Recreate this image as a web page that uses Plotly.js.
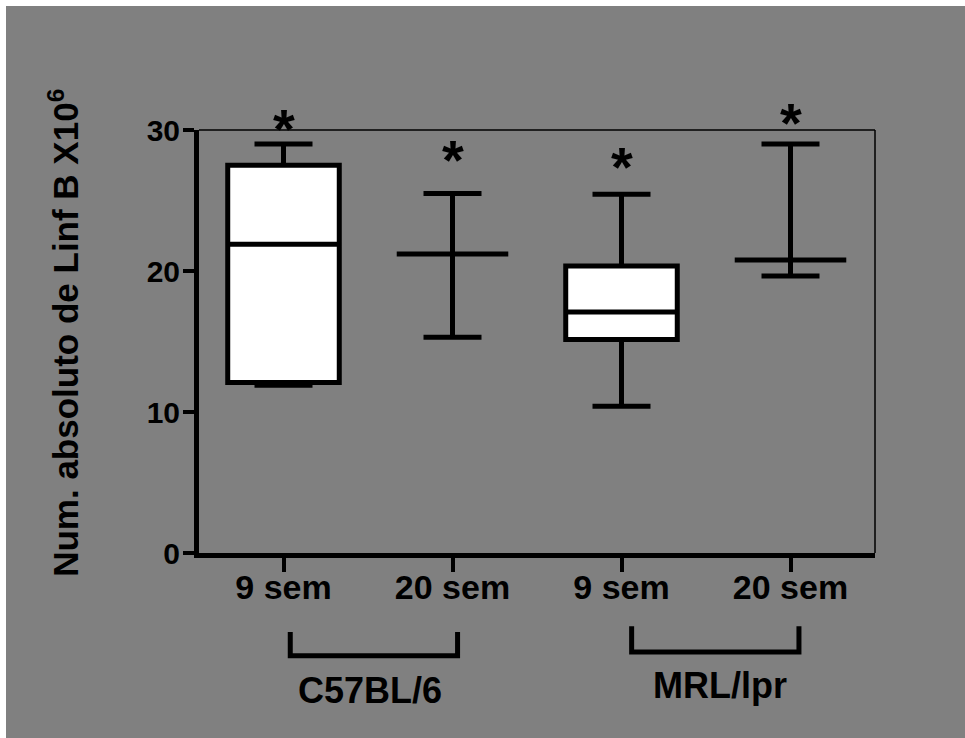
<!DOCTYPE html>
<html>
<head>
<meta charset="utf-8">
<script src="https://cdn.plot.ly/plotly-3.0.1.min.js"></script>
<style>
  html, body { margin: 0; padding: 0; background: #ffffff; }
  #chart { position: absolute; left: 6px; top: 6px; width: 959px; height: 732px; }
</style>
</head>
<body>
<div id="chart"></div>
<script>
// ---- data ----
const positions   = [0, 1, 2, 3];
const tickLabels  = ["9 sem", "20 sem", "9 sem", "20 sem"];
const groupLabels = ["C57BL/6", "MRL/lpr"];
const lowerFence  = [11.9, 15.3, 10.4, 19.65];
const q1Values    = [12.1, 21.2, 15.15, 20.78];
const medianVals  = [21.9, 21.2, 17.1, 20.78];
const q3Values    = [27.5, 21.2, 20.35, 20.78];
const upperFence  = [29.0, 25.5, 25.45, 29.0];
const starLabels  = ["*", "*", "*", "*"];
const starY       = [30.8, 28.6, 28.1, 31.25];
const yTicks      = [0, 10, 20, 30];
const yMax        = 30;

const FONT = "Liberation Sans, Arial, Helvetica, sans-serif";

const trace = {
  type: "box",
  x: positions,
  q1: q1Values,
  median: medianVals,
  q3: q3Values,
  lowerfence: lowerFence,
  upperfence: upperFence,
  width: 0.66,
  whiskerwidth: 0.52,
  boxpoints: false,
  fillcolor: "#ffffff",
  line: { color: "#000000", width: 5 },
  hoverinfo: "skip",
  showlegend: false
};

const annotations = [];
positions.forEach((p, i) => {
  annotations.push({
    x: p, y: starY[i] / yMax, xref: "x", yref: "paper",
    text: starLabels[i], showarrow: false,
    xanchor: "center", yanchor: "middle", yshift: -10,
    font: { family: FONT, size: 56, color: "#000000", weight: "bold" }
  });
});
annotations.push({
  x: 0.51, y: -0.324, xref: "x", yref: "paper",
  text: groupLabels[0], showarrow: false, xanchor: "center", yanchor: "middle",
  font: { family: FONT, size: 36, color: "#000000", weight: "bold" }
});
annotations.push({
  x: 2.58, y: -0.314, xref: "x", yref: "paper",
  text: groupLabels[1], showarrow: false, xanchor: "center", yanchor: "middle",
  font: { family: FONT, size: 36, color: "#000000", weight: "bold" }
});
annotations.push({
  x: -0.2, y: 0.52, xref: "paper", yref: "paper",
  text: "Num. absoluto de Linf B X10<sup>6</sup>", showarrow: false,
  textangle: -90, xanchor: "center", yanchor: "middle",
  font: { family: FONT, size: 35, color: "#000000", weight: "bold" }
});

function bracket(x0, x1, yTop, yBot) {
  return {
    type: "path", xref: "x", yref: "paper",
    path: `M ${x0} ${yTop} L ${x0} ${yBot} L ${x1} ${yBot} L ${x1} ${yTop}`,
    line: { color: "#000000", width: 5 }, layer: "above"
  };
}

const shapes = [
  { type: "line", xref: "paper", yref: "paper", x0: 0, x1: 1, y0: 1, y1: 1,
    line: { color: "#000000", width: 1.5 } },
  { type: "line", xref: "paper", yref: "paper", x0: 1, x1: 1, y0: 0, y1: 1,
    line: { color: "#000000", width: 1.5 } },
  bracket(0.04, 1.03, -0.187, -0.243),
  bracket(2.06, 3.05, -0.173, -0.234)
];

const layout = {
  width: 959, height: 732,
  margin: { l: 193, r: 90, t: 124, b: 185, pad: 0 },
  paper_bgcolor: "#808080",
  plot_bgcolor: "#808080",
  showlegend: false,
  xaxis: {
    range: [-0.5, 3.5],
    tickmode: "array", tickvals: positions, ticktext: tickLabels,
    showgrid: false, zeroline: false,
    showline: true, linecolor: "#000000", linewidth: 5,
    ticks: "outside", ticklen: 14, tickwidth: 4, tickcolor: "#000000",
    ticklabelstandoff: -14,
    tickfont: { family: FONT, size: 34, color: "#000000", weight: "bold" },
    fixedrange: true
  },
  yaxis: {
    range: [0, 30],
    tickmode: "array", tickvals: yTicks, ticktext: yTicks.map(String),
    showgrid: false, zeroline: false,
    showline: true, linecolor: "#000000", linewidth: 5,
    ticks: "outside", ticklen: 11, tickwidth: 4, tickcolor: "#000000",
    ticklabelstandoff: -3,
    tickfont: { family: FONT, size: 30, color: "#000000", weight: "bold" },
    fixedrange: true
  },
  annotations: annotations,
  shapes: shapes
};

Plotly.newPlot("chart", [trace], layout, { displayModeBar: false, staticPlot: true });
</script>
</body>
</html>
